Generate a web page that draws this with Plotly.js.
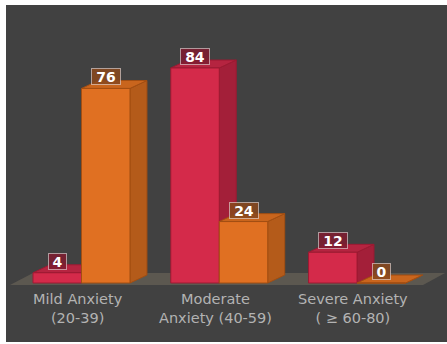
<!DOCTYPE html>
<html>
<head>
<meta charset="utf-8">
<script src="https://cdn.plot.ly/plotly-3.0.1.min.js"></script>
<style>
  html, body { margin: 0; padding: 0; background: #ffffff; }
  #chart { width: 447px; height: 344px; }
</style>
</head>
<body>
<div id="chart"></div>
<script>
// Anxiety levels: two series per category, drawn as extruded 3D-style bars
const categories = ['Mild Anxiety<br>(20-39)', 'Moderate<br>Anxiety (40-59)', 'Severe Anxiety<br>( ≥ 60-80)'];
const redValues = [4, 84, 12];
const orangeValues = [76, 24, 0];

// bar geometry in axis units
const BAR_W = 0.352;   // front face width
const DEPTH_X = 0.123; // extrusion to the right
const DEPTH_Y = 3.1;   // extrusion upwards

const RED = { front: '#d42a4a', top: '#b52440', side: '#a31f39', line: '#9c1a32', label: 'rgba(125,28,48,0.88)' };
const ORANGE = { front: '#e07022', top: '#c9651d', side: '#b45b1a', line: '#a24e12', label: 'rgba(135,72,30,0.88)' };

function facePolys(values, leftOf) {
  const front = { x: [], y: [] }, top = { x: [], y: [] }, side = { x: [], y: [] };
  values.forEach((v, i) => {
    const x0 = leftOf(i), x1 = x0 + BAR_W;
    const push = (poly, pts) => {
      pts.forEach(p => { poly.x.push(p[0]); poly.y.push(p[1]); });
      poly.x.push(null); poly.y.push(null);
    };
    push(front, [[x0, 0], [x1, 0], [x1, v], [x0, v], [x0, 0]]);
    push(top, [[x0, v], [x1, v], [x1 + DEPTH_X, v + DEPTH_Y], [x0 + DEPTH_X, v + DEPTH_Y], [x0, v]]);
    push(side, [[x1, 0], [x1 + DEPTH_X, DEPTH_Y], [x1 + DEPTH_X, v + DEPTH_Y], [x1, v], [x1, 0]]);
  });
  return { front, top, side };
}

function faceTraces(values, leftOf, pal) {
  const f = facePolys(values, leftOf);
  return ['side', 'top', 'front'].map(k => ({
    type: 'scatter', mode: 'lines', fill: 'toself',
    x: f[k].x, y: f[k].y,
    fillcolor: pal[k], line: { color: pal.line, width: 1 },
    hoverinfo: 'skip', showlegend: false
  }));
}

const redLeft = i => i - BAR_W;
const orangeLeft = i => i;

const traces = [
  ...faceTraces(redValues, redLeft, RED),
  ...faceTraces(orangeValues, orangeLeft, ORANGE)
];

function valueLabels(values, leftOf, pal) {
  return values.map((v, i) => {
    const txt = String(v);
    return {
      x: leftOf(i) + BAR_W / 2, y: v, xref: 'x', yref: 'y',
      yanchor: 'bottom', yshift: 3,
      text: '<b>' + txt + '</b>', showarrow: false,
      font: { family: 'DejaVu Sans', size: 14, color: '#ffffff' },
      bgcolor: pal.label, bordercolor: 'rgba(235,225,225,0.6)', borderwidth: 1, borderpad: 0,
      width: 11 * txt.length + 6, height: 15
    };
  });
}

// two-line category names under each group
const categoryLabels = categories.map((c, i) => ({
  x: i, y: 0, xref: 'x', yref: 'y', xshift: -4,
  yanchor: 'middle', yshift: -25,
  text: c, showarrow: false, align: 'center',
  font: { family: 'DejaVu Sans', size: 14.5, color: '#b3b3b3' }
}));

const floorPath = 'M -0.519 -0.78 L 2.479 -0.78 L 2.639 3.9 L -0.352 3.9 Z';

const layout = {
  width: 447, height: 344,
  margin: { l: 6, r: 0, t: 5, b: 2, pad: 0 },
  paper_bgcolor: '#ffffff',
  plot_bgcolor: '#414141',
  showlegend: false,
  xaxis: { range: [-0.548, 2.653], showgrid: false, zeroline: false, showticklabels: false, ticks: '', showline: false, fixedrange: true },
  yaxis: { range: [-23.05, 108.6], showgrid: false, zeroline: false, showticklabels: false, ticks: '', showline: false, fixedrange: true },
  shapes: [{ type: 'path', xref: 'x', yref: 'y', path: floorPath, fillcolor: '#5c5850', line: { width: 0 }, layer: 'below' }],
  annotations: [
    ...valueLabels(redValues, redLeft, RED),
    ...valueLabels(orangeValues, orangeLeft, ORANGE),
    ...categoryLabels
  ]
};

Plotly.newPlot('chart', traces, layout, { staticPlot: true, displayModeBar: false });
</script>
</body>
</html>
